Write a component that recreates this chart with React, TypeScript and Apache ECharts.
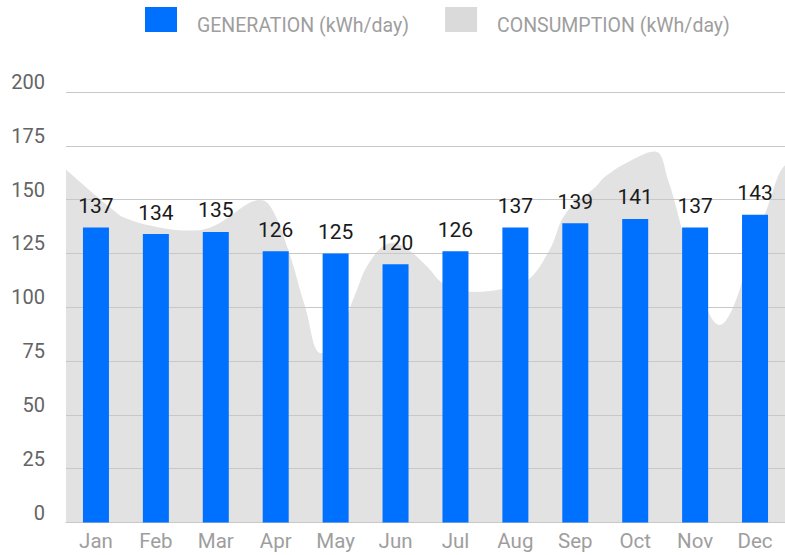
import React, { useEffect, useRef } from "react";
import * as echarts from "echarts";

const months = ["Jan", "Feb", "Mar", "Apr", "May", "Jun", "Jul", "Aug", "Sep", "Oct", "Nov", "Dec"];
const generation = [137, 134, 135, 126, 125, 120, 126, 137, 139, 141, 137, 143];
// consumption curve sampled along the month axis (0 = left edge of Jan, 12 = right edge of Dec)
const consumptionPos = [0, 0.45, 0.73, 1.0, 1.56, 2.1, 2.5, 3.05, 3.24, 3.43, 3.71, 3.99, 4.26, 4.54, 4.81, 5.09, 5.45, 5.7, 6.03, 6.3, 6.74, 7.24, 7.68, 8.07, 8.34, 8.84, 9.0, 9.39, 9.83, 10.05, 10.33, 10.6, 10.91, 11.16, 11.43, 11.71, 11.9, 12.0];
const consumptionVal = [164, 153, 146.5, 141.3, 137.1, 135.6, 138.2, 148.3, 149.8, 146, 126.6, 100.3, 78.6, 86.3, 104.9, 122, 129.8, 127, 118.8, 111, 107.2, 108.3, 111.9, 126.6, 143.6, 156, 160.7, 167.6, 172.3, 159, 131.2, 106.5, 91.8, 101.8, 126.6, 146.7, 162, 166];
const yTicks = { min: 0, max: 200, interval: 25 };

export default function App() {
  const ref = useRef<HTMLDivElement>(null);
  useEffect(() => {
    if (!ref.current) return;
    const chart = echarts.init(ref.current, null, { renderer: "svg" });
    const font = "Roboto";
    chart.setOption({
      animation: false,
      textStyle: { fontFamily: font },
      legend: {
        left: 140,
        top: 2,
        icon: "path://M0,0h32v25h-32z M0,37h0.001",
        itemWidth: 32,
        itemHeight: 37,
        itemGap: 36,
        data: ["GENERATION (kWh/day)", "CONSUMPTION (kWh/day)"],
        textStyle: { color: "#9e9e9e", fontSize: 19.5, fontFamily: font, padding: [0, 0, 0, 15] },
      },
      grid: { left: 66, top: 92, width: 725, height: 430.5 },
      xAxis: [
        {
          type: "category",
          data: months,
          axisTick: { show: false },
          axisLine: { lineStyle: { color: "#c8c8c8", width: 1 } },
          axisLabel: { color: "#9e9e9e", fontSize: 20.5, margin: 8, fontFamily: font },
        },
        { type: "value", min: 0, max: 12, show: false },
      ],
      yAxis: {
        type: "value",
        min: yTicks.min,
        max: yTicks.max,
        interval: yTicks.interval,
        axisLine: { show: false },
        axisTick: { show: false },
        axisLabel: { color: "#646464", fontSize: 20, margin: 21, verticalAlign: "bottom", fontFamily: font },
        splitLine: { lineStyle: { color: "#c8c8c8", width: 1 } },
      },
      series: [
        {
          name: "CONSUMPTION (kWh/day)",
          type: "line",
          xAxisIndex: 1,
          data: consumptionPos.map((p, i) => [p, consumptionVal[i]]),
          smooth: 0.4,
          symbol: "none",
          z: -1,
          lineStyle: { width: 0, color: "#dadada" },
          itemStyle: { color: "#dadada", borderWidth: 0 },
          areaStyle: { color: "#e2e2e2", opacity: 1 },
        },
        {
          name: "GENERATION (kWh/day)",
          type: "bar",
          data: generation,
          barWidth: 26,
          itemStyle: { color: "#0070ff" },
          label: { show: true, position: "top", distance: 11, color: "#1a1a1a", fontSize: 21, fontFamily: font },
        },
      ],
    });
    return () => chart.dispose();
  }, []);
  return <div ref={ref} style={{ position: "absolute", left: 0, top: 0, width: 785, height: 555 }} />;
}
